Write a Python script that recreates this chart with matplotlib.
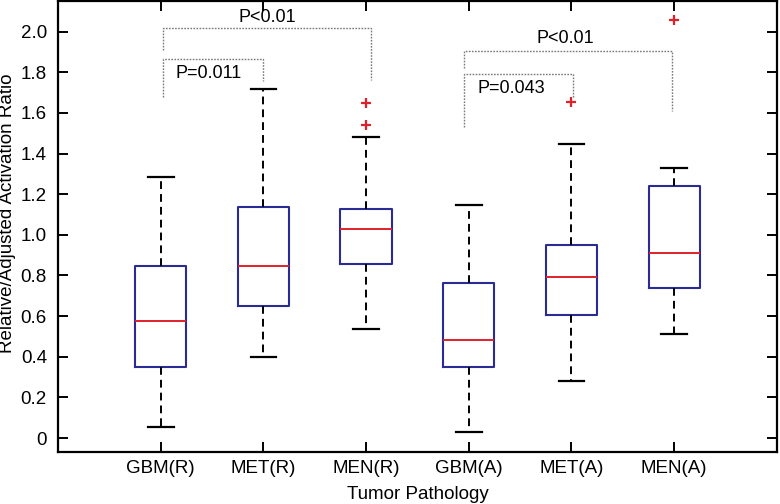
import numpy as np
import matplotlib
matplotlib.use("Agg")
import matplotlib.pyplot as plt

plt.rcParams['font.family'] = ['Liberation Sans', 'DejaVu Sans']

# box statistics
groups = ['GBM(R)', 'MET(R)', 'MEN(R)', 'GBM(A)', 'MET(A)', 'MEN(A)']
whislo = [0.055, 0.40, 0.535, 0.03, 0.28, 0.51]
q1 = [0.35, 0.648, 0.855, 0.35, 0.608, 0.737]
med = [0.577, 0.845, 1.03, 0.485, 0.793, 0.91]
q3 = [0.845, 1.138, 1.125, 0.765, 0.95, 1.238]
whishi = [1.283, 1.715, 1.48, 1.147, 1.447, 1.33]
fliers = [[], [], [1.54, 1.65], [], [1.655], [2.055]]

# significance brackets: (left x, right x, bar y, left leg end, right leg end)
br_left = [1.02, 1.02, 3.95, 3.95]
br_right = [3.05, 2.0, 5.98, 5.01]
br_y = [2.018, 1.865, 1.903, 1.793]
br_left_end = [1.91, 1.68, 1.82, 1.53]
br_right_end = [1.76, 1.755, 1.607, 1.675]
p_labels = ['P<0.01', 'P=0.011', 'P<0.01', 'P=0.043']
p_x = [2.04, 1.145, 4.94, 4.08]
p_y = [2.07, 1.795, 1.965, 1.72]
p_ha = ['center', 'left', 'center', 'left']

yticks = [0, 0.2, 0.4, 0.6, 0.8, 1.0, 1.2, 1.4, 1.6, 1.8, 2.0]
ytick_labels = ['0', '0.2', '0.4', '0.6', '0.8', '1.0', '1.2', '1.4', '1.6', '1.8', '2.0']

stats = []
for i, name in enumerate(groups):
    stats.append(dict(label=name, whislo=whislo[i], q1=q1[i], med=med[i],
                      q3=q3[i], whishi=whishi[i], fliers=np.array(fliers[i])))

fig = plt.figure(figsize=(7.8, 5.04), dpi=100)
ax = fig.add_axes([0.0744, 0.1032, 0.9216, 0.8948])

blue = '#2b2b95'
red = '#e0202a'
ax.bxp(stats, positions=np.arange(1, 7), widths=0.5, capwidths=0.25,
       boxprops=dict(color=blue, linewidth=1.5),
       medianprops=dict(color=red, linewidth=1.4),
       whiskerprops=dict(color='black', linewidth=1.4, linestyle=(0, (4, 2.6))),
       capprops=dict(color='black', linewidth=1.6),
       flierprops=dict(marker='+', markeredgecolor=red, markersize=7,
                       markeredgewidth=1.6, linestyle='none'))

gray = '#7a7a7a'
for i in range(len(p_labels)):
    ax.plot([br_left[i], br_left[i], br_right[i], br_right[i]],
            [br_left_end[i], br_y[i], br_y[i], br_right_end[i]],
            color=gray, linewidth=1.0, linestyle=(0, (1.2, 1.0)))
    ax.text(p_x[i], p_y[i], p_labels[i], ha=p_ha[i], va='center', fontsize=13)

ax.set_xlim(0, 7)
ax.set_ylim(-0.068, 2.15)
ax.set_yticks(yticks)
ax.set_yticklabels(ytick_labels)
ax.set_xticks(np.arange(1, 7))
ax.set_xticklabels(groups)
ax.tick_params(direction='in', length=7, width=1.4, top=True, right=True,
               labelsize=13.5)
ax.tick_params(axis='y', pad=8)
ax.tick_params(axis='x', pad=6)
for s in ax.spines.values():
    s.set_linewidth(1.6)

ax.set_xlabel('Tumor Pathology', fontsize=13.5, labelpad=6)
ax.set_ylabel('Relative/Adjusted Activation Ratio', fontsize=13.5)
ax.yaxis.set_label_coords(-0.058, 0.53)

fig.savefig('out.png', dpi=100)
